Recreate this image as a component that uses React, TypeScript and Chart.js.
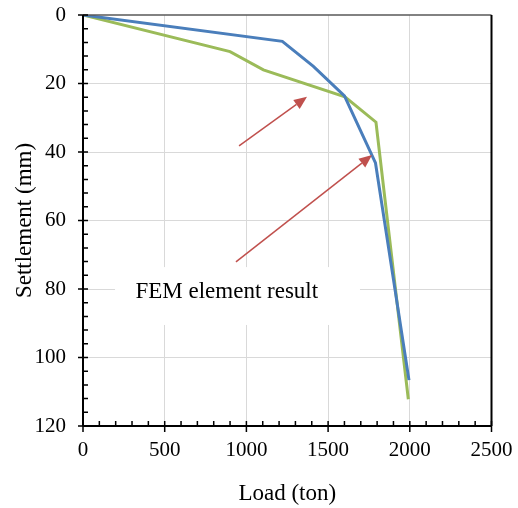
import React, { useEffect, useRef } from "react";
import { Chart, registerables } from "chart.js";

Chart.register(...registerables);

// Load (ton) vs settlement (mm)
const blueLoad = [0, 1220, 1410, 1600, 1790, 1995];
const blueSettle = [0, 7.7, 15, 23.6, 43.2, 106.6];
const greenLoad = [0, 900, 1104, 1603, 1793, 1991];
const greenSettle = [0, 10.7, 16, 23.9, 31.3, 112.2];

const xTicksMin = 0;
const xTicksMax = 2500;
const xStep = 500;
const xMinorStep = 100;
const yTicksMin = 0;
const yTicksMax = 120;
const yStep = 20;
const yMinorStep = 4;

const xTitle = "Load (ton)";
const yTitle = "Settlement (mm)";

const labelText = "FEM element result";
const labelX = 880;
const labelY = 81;
const labelBoxX = [196, 1695];
const labelBoxY = [73.6, 90.5];

const arrowStartX = [955, 936];
const arrowStartY = [38.2, 72.1];
const arrowEndX = [1371, 1769];
const arrowEndY = [23.9, 40.9];

const FONT = "'Liberation Serif', 'Times New Roman', serif";

const overlayPlugin = {
  id: "overlay",
  afterDatasetsDraw(chart: any) {
    const ctx = chart.ctx as CanvasRenderingContext2D;
    const xs = chart.scales.x;
    const ys = chart.scales.y;
    const area = chart.chartArea;
    ctx.save();

    // label box + text
    const bx1 = xs.getPixelForValue(labelBoxX[0]);
    const bx2 = xs.getPixelForValue(labelBoxX[1]);
    const by1 = ys.getPixelForValue(labelBoxY[0]);
    const by2 = ys.getPixelForValue(labelBoxY[1]);
    ctx.fillStyle = "#ffffff";
    ctx.fillRect(bx1, by1, bx2 - bx1, by2 - by1);
    ctx.fillStyle = "#000000";
    ctx.font = `23px ${FONT}`;
    ctx.textAlign = "center";
    ctx.textBaseline = "middle";
    ctx.fillText(labelText, xs.getPixelForValue(labelX), ys.getPixelForValue(labelY));

    // arrows
    ctx.strokeStyle = "#C0504D";
    ctx.fillStyle = "#C0504D";
    ctx.lineWidth = 1.5;
    for (let i = 0; i < arrowStartX.length; i++) {
      const x1 = xs.getPixelForValue(arrowStartX[i]);
      const y1 = ys.getPixelForValue(arrowStartY[i]);
      const x2 = xs.getPixelForValue(arrowEndX[i]);
      const y2 = ys.getPixelForValue(arrowEndY[i]);
      const a = Math.atan2(y2 - y1, x2 - x1);
      const L = 13;
      const W = 5.5;
      const bx = x2 - L * Math.cos(a);
      const by = y2 - L * Math.sin(a);
      ctx.beginPath();
      ctx.moveTo(x1, y1);
      ctx.lineTo(bx, by);
      ctx.stroke();
      ctx.beginPath();
      ctx.moveTo(x2, y2);
      ctx.lineTo(bx + W * Math.sin(a), by - W * Math.cos(a));
      ctx.lineTo(bx - W * Math.sin(a), by + W * Math.cos(a));
      ctx.closePath();
      ctx.fill();
    }

    // borders
    ctx.strokeStyle = "#595959";
    ctx.lineWidth = 1.5;
    ctx.beginPath();
    ctx.moveTo(area.left, area.top);
    ctx.lineTo(area.right, area.top);
    ctx.stroke();
    ctx.strokeStyle = "#000000";
    ctx.lineWidth = 2;
    ctx.beginPath();
    ctx.moveTo(area.right, area.top);
    ctx.lineTo(area.right, area.bottom);
    ctx.stroke();

    // axes
    ctx.lineWidth = 2;
    ctx.beginPath();
    ctx.moveTo(area.left, area.top);
    ctx.lineTo(area.left, area.bottom);
    ctx.moveTo(area.left, area.bottom);
    ctx.lineTo(area.right, area.bottom);
    ctx.stroke();

    ctx.lineWidth = 1.5;
    ctx.beginPath();
    for (let v = yTicksMin; v <= yTicksMax + 1e-9; v += yMinorStep) {
      const p = ys.getPixelForValue(v);
      const major = Math.abs(v / yStep - Math.round(v / yStep)) < 1e-6;
      ctx.moveTo(area.left + (major ? -5 : 0), p);
      ctx.lineTo(area.left + 5, p);
    }
    for (let v = xTicksMin; v <= xTicksMax + 1e-9; v += xMinorStep) {
      const p = xs.getPixelForValue(v);
      const major = Math.abs(v / xStep - Math.round(v / xStep)) < 1e-6;
      ctx.moveTo(p, area.bottom + (major ? 6 : 0));
      ctx.lineTo(p, area.bottom - 5);
    }
    ctx.stroke();
    ctx.restore();
  },
};

export default function App() {
  const ref = useRef<HTMLCanvasElement>(null);
  useEffect(() => {
    if (!ref.current) return;
    const chart = new Chart(ref.current, {
      type: "line",
      data: {
        datasets: [
          {
            label: "Blue",
            data: blueLoad.map((x, i) => ({ x, y: blueSettle[i] })),
            borderColor: "#4A7EBB",
            borderWidth: 3,
            pointRadius: 0,
            tension: 0,
            fill: false,
          },
          {
            label: "Green",
            data: greenLoad.map((x, i) => ({ x, y: greenSettle[i] })),
            borderColor: "#9BBB59",
            borderWidth: 3,
            pointRadius: 0,
            tension: 0,
            fill: false,
          },
        ],
      },
      options: {
        animation: false,
        responsive: false,
        layout: { padding: { left: 0, top: 15, right: 26.5, bottom: 0 } },
        plugins: { legend: { display: false }, tooltip: { enabled: false } },
        scales: {
          x: {
            type: "linear",
            min: xTicksMin,
            max: xTicksMax,
            ticks: {
              stepSize: xStep,
              color: "#000",
              font: { family: FONT, size: 21 },
              padding: 12,
              maxRotation: 0,
              callback: (v: any) => String(v),
            },
            grid: {
              color: (c: any) =>
                c.tick && (c.tick.value === xTicksMin || c.tick.value === xTicksMax)
                  ? "rgba(0,0,0,0)"
                  : "#D9D9D9",
              lineWidth: 1,
              drawTicks: false,
            },
            border: { display: false },
            title: {
              display: true,
              text: xTitle,
              color: "#000",
              font: { family: FONT, size: 23 },
              padding: { top: 0, bottom: 0 },
            },
            afterFit: (s: any) => {
              s.height = 82;
              s.paddingLeft = 0;
              s.paddingRight = 0;
            },
          },
          y: {
            type: "linear",
            reverse: true,
            min: yTicksMin,
            max: yTicksMax,
            ticks: {
              stepSize: yStep,
              color: "#000",
              font: { family: FONT, size: 21 },
              padding: 17,
            },
            grid: {
              color: (c: any) =>
                c.tick && (c.tick.value === yTicksMin || c.tick.value === yTicksMax)
                  ? "rgba(0,0,0,0)"
                  : "#D9D9D9",
              lineWidth: 1,
              drawTicks: false,
            },
            border: { display: false },
            title: {
              display: true,
              text: yTitle,
              color: "#000",
              font: { family: FONT, size: 23 },
              padding: { top: 11, bottom: 0 },
            },
            afterFit: (s: any) => {
              s.width = 83;
              s.paddingTop = 0;
              s.paddingBottom = 0;
            },
          },
        },
      },
      plugins: [overlayPlugin],
    });
    return () => chart.destroy();
  }, []);
  return (
    <div style={{ position: "fixed", left: 0, top: 0, width: 518, height: 508, background: "#fff" }}>
      <canvas ref={ref} width={518} height={508} style={{ display: "block" }} />
    </div>
  );
}
